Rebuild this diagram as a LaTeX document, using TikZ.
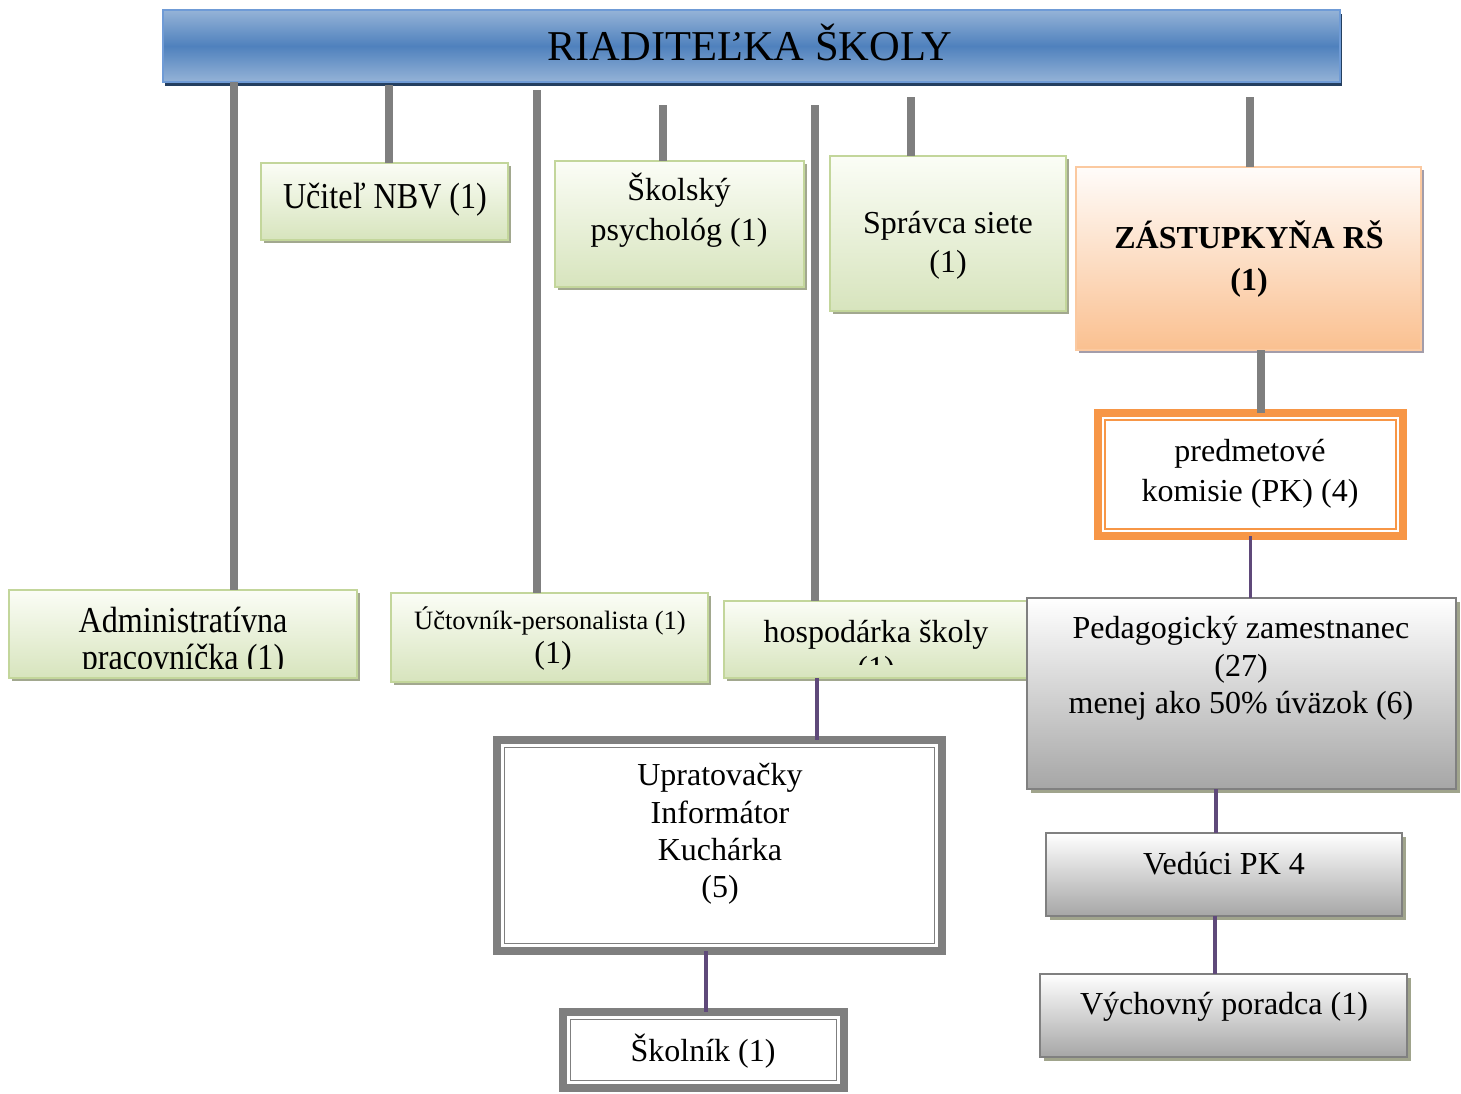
\documentclass[tikz,border=0pt]{standalone}
\usepackage{fontspec}
\setmainfont{Liberation Serif}
\newfontfamily\tallfont{Liberation Serif}[FakeStretch=0.88]
\usetikzlibrary{shadows}
\definecolor{grline}{HTML}{7F7F7F}
\definecolor{purp}{HTML}{5F497A}
\definecolor{gtop}{HTML}{FBFDF6}
\definecolor{gbot}{HTML}{D7E4BD}
\definecolor{gbord}{HTML}{C3D69B}
\definecolor{gshad}{HTML}{A2A88F}
\definecolor{otop}{HTML}{FFFCFA}
\definecolor{obot}{HTML}{FAC090}
\definecolor{obord}{HTML}{FBC9A0}
\definecolor{oshad}{HTML}{A39DAA}
\definecolor{orthick}{HTML}{F79646}
\definecolor{gybot}{HTML}{A6A6A6}
\definecolor{gybord}{HTML}{808080}
\definecolor{gyshad}{HTML}{A0A48C}
\definecolor{bedge}{HTML}{95B3D7}
\definecolor{bmid}{HTML}{4F81BD}
\definecolor{bbord}{HTML}{6F9BD6}
\definecolor{bshad}{HTML}{243F60}
\begin{document}
\begin{tikzpicture}[x=1pt,y=-1pt,
  box/.style={anchor=north west, inner sep=0pt, outer sep=0pt, line width=1.5pt},
  titlebox/.style={box, draw=bbord, top color=bedge, bottom color=bedge, middle color=bmid,
    drop shadow={shadow xshift=2pt, shadow yshift=-4pt, fill=bshad, opacity=1}},
  greenbox/.style={box, draw=gbord, top color=gtop, bottom color=gbot,
    drop shadow={shadow xshift=3pt, shadow yshift=-3pt, fill=gshad, opacity=1}},
  orangebox/.style={box, draw=obord, top color=otop, bottom color=obot,
    drop shadow={shadow xshift=3pt, shadow yshift=-3pt, fill=oshad, opacity=1}},
  graybox/.style={box, draw=gybord, top color=white, bottom color=gybot,
    drop shadow={shadow xshift=4pt, shadow yshift=-4pt, fill=gyshad, opacity=1}},
  dblgray/.style={box, draw=grline, line width=8pt, fill=white},
  dblorange/.style={box, draw=orthick, line width=8pt, fill=white},
  txt/.style={align=center, inner sep=0pt, font=\fontsize{32}{37.5}\selectfont},
  gline/.style={draw=grline, line width=8pt},
  pline/.style={draw=purp, line width=3.5pt}
]
\useasboundingbox[fill=white] (0,0) rectangle (1461,1093);

% free ends of connectors under the title
\coordinate (c1) at (234,82);
\coordinate (c2) at (389,85);
\coordinate (c3) at (537,90);
\coordinate (c4) at (663,105);
\coordinate (c5) at (815,105);
\coordinate (c6) at (911,97);
\coordinate (c7) at (1250,97);

% boxes
\node[titlebox, minimum width=1177pt, minimum height=72pt] (title) at (163,10) {};
\node[greenbox, minimum width=247pt, minimum height=77pt] (ucitel) at (261,163) {};
\node[greenbox, minimum width=249pt, minimum height=126pt] (psych) at (555,161) {};
\node[greenbox, minimum width=236pt, minimum height=155pt] (spravca) at (830,156) {};
\node[orangebox, minimum width=345pt, minimum height=183pt] (zast) at (1076,167) {};
\node[dblorange, minimum width=305pt, minimum height=123pt] (predm) at (1098,413) {};
\draw[draw=orthick, line width=1.5pt] ([shift={(7,7)}]predm.north west) rectangle ([shift={(-7,-7)}]predm.south east);
\node[greenbox, minimum width=348pt, minimum height=88pt] (adm) at (9,590) {};
\node[greenbox, minimum width=317pt, minimum height=89pt] (uct) at (391,593) {};
\node[greenbox, minimum width=308pt, minimum height=77pt] (hosp) at (724,601) {};
\node[graybox, minimum width=429pt, minimum height=191pt] (ped) at (1027,598) {};
\node[dblgray, minimum width=445pt, minimum height=211pt] (upr) at (497,740) {};
\draw[draw=grline, line width=1.5pt] ([shift={(7.5,7.5)}]upr.north west) rectangle ([shift={(-7.5,-7.5)}]upr.south east);
\node[dblgray, minimum width=281pt, minimum height=76pt] (skol) at (563,1012) {};
\draw[draw=grline, line width=1.5pt] ([shift={(7.5,7.5)}]skol.north west) rectangle ([shift={(-7.5,-7.5)}]skol.south east);
\node[graybox, minimum width=356pt, minimum height=83pt] (ved) at (1046,833) {};
\node[graybox, minimum width=367pt, minimum height=83pt] (vych) at (1040,974) {};

% gray connectors
\draw[gline] (c1) -- (c1 |- adm.north);
\draw[gline] (c2) -- (c2 |- ucitel.north);
\draw[gline] (c3) -- (c3 |- uct.north);
\draw[gline] (c4) -- (c4 |- psych.north);
\draw[gline] (c5) -- (c5 |- hosp.north);
\draw[gline] (c6) -- (c6 |- spravca.north);
\draw[gline] (c7) -- (c7 |- zast.north);
\draw[gline] ([xshift=12.5pt]zast.south) -- ([xshift=12.5pt]zast.south |- predm.north);

% purple connectors
\draw[pline] (predm.south) -- (predm.south |- ped.north);
\draw[pline] ([xshift=-61pt]hosp.south) -- ([xshift=-61pt]hosp.south |- upr.north);
\draw[pline] ([xshift=2.5pt]skol.north |- upr.south) -- ([xshift=2.5pt]skol.north);
\draw[pline] ([xshift=-8pt]ved.north |- ped.south) -- ([xshift=-8pt]ved.north);
\draw[pline] ([xshift=-9pt]ved.south) -- ([xshift=-9pt]ved.south |- vych.north);

% texts
\node[txt, font=\fontsize{42.5}{48}\selectfont] (titleT) at (750,42) {RIADITEĽKA ŠKOLY};
\node[txt, font=\fontsize{36.5}{42}\tallfont] (ucitelT) at (385,200) {Učiteľ NBV (1)};
\node[txt, font=\fontsize{32}{40}\selectfont] (psychT) at (679,210) {Školský\\psychológ (1)};
\node[txt, font=\fontsize{32}{39}\selectfont] (spravcaT) at (948,245.5) {Správca siete\\(1)};
\node[txt, font=\fontsize{32}{42}\selectfont\bfseries] (zastT) at (1249,259.5) {ZÁSTUPKYŇA RŠ\\(1)};
\node[txt, font=\fontsize{32}{40}\selectfont] (predmT) at (1250,474) {predmetové\\komisie (PK) (4)};
\begin{scope}
  \clip (9,590) rectangle (357,668);
  \node[txt, font=\fontsize{36.5}{37}\tallfont] (admT) at (183,642) {Administratívna\\pracovníčka (1)};
\end{scope}
\node[txt, font=\fontsize{26.5}{30}\selectfont] (uctT1) at (550,621) {Účtovník-personalista (1)};
\node[txt] (uctT2) at (553,656) {(1)};
\begin{scope}
  \clip (724,601) rectangle (1028,664);
  \node[txt, font=\fontsize{32}{36}\selectfont] (hospT) at (876,653) {hospodárka školy\\(1)};
\end{scope}
\node[txt] (pedT) at (1241,668.5) {Pedagogický zamestnanec\\(27)\\menej ako 50\% úväzok (6)};
\node[txt, font=\fontsize{32}{37.3}\selectfont] (uprT) at (720,834) {Upratovačky\\Informátor\\Kuchárka\\(5)};
\node[txt] (skolT) at (703,1051) {Školník (1)};
\node[txt] (vedT) at (1224,864) {Vedúci PK 4};
\node[txt] (vychT) at (1224,1007) {Výchovný poradca (1)};
\end{tikzpicture}
\end{document}
